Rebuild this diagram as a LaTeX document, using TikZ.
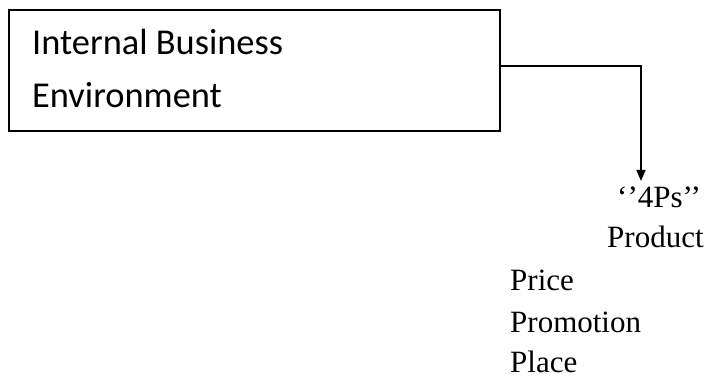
\documentclass[tikz,border=0pt]{standalone}
\usepackage{fontspec}
\setmainfont{Liberation Serif}
\newfontfamily\boxfont{Carlito}
\usetikzlibrary{arrows.meta}
\tikzset{
  boxtext/.style={anchor=base west, inner sep=0pt, font=\boxfont\fontsize{36.4}{44}\selectfont},
  itemtext/.style={anchor=base west, inner sep=0pt, font=\fontsize{31}{37}\selectfont},
  frame/.style={draw, line width=1.5pt, minimum width=491pt, minimum height=121pt, inner sep=0pt},
  conn/.style={line width=1.5pt, -{Triangle[width=9pt,length=11pt]}}
}
\begin{document}
\begin{tikzpicture}[x=1pt,y=1pt]
\useasboundingbox (0,0) rectangle (705,-379);
\node[frame] (box) at (254.5,-70.5) {};
\node[boxtext] (l1) at (32,-55) {Internal Business};
\node[boxtext] (l2) at (32,-108) {Environment};
\coordinate (start) at (500,-66);
\coordinate (tip) at (641,-181);
\node[itemtext] (fourps) at (617,-208) {‘’4Ps’’};
\node[itemtext] (product) at (607,-248) {Product};
\node[itemtext] (price) at (510,-291) {Price};
\node[itemtext] (promotion) at (510,-333) {Promotion};
\node[itemtext] (place) at (510,-373) {Place};
\draw[conn] (start) -| (tip);
\end{tikzpicture}
\end{document}
